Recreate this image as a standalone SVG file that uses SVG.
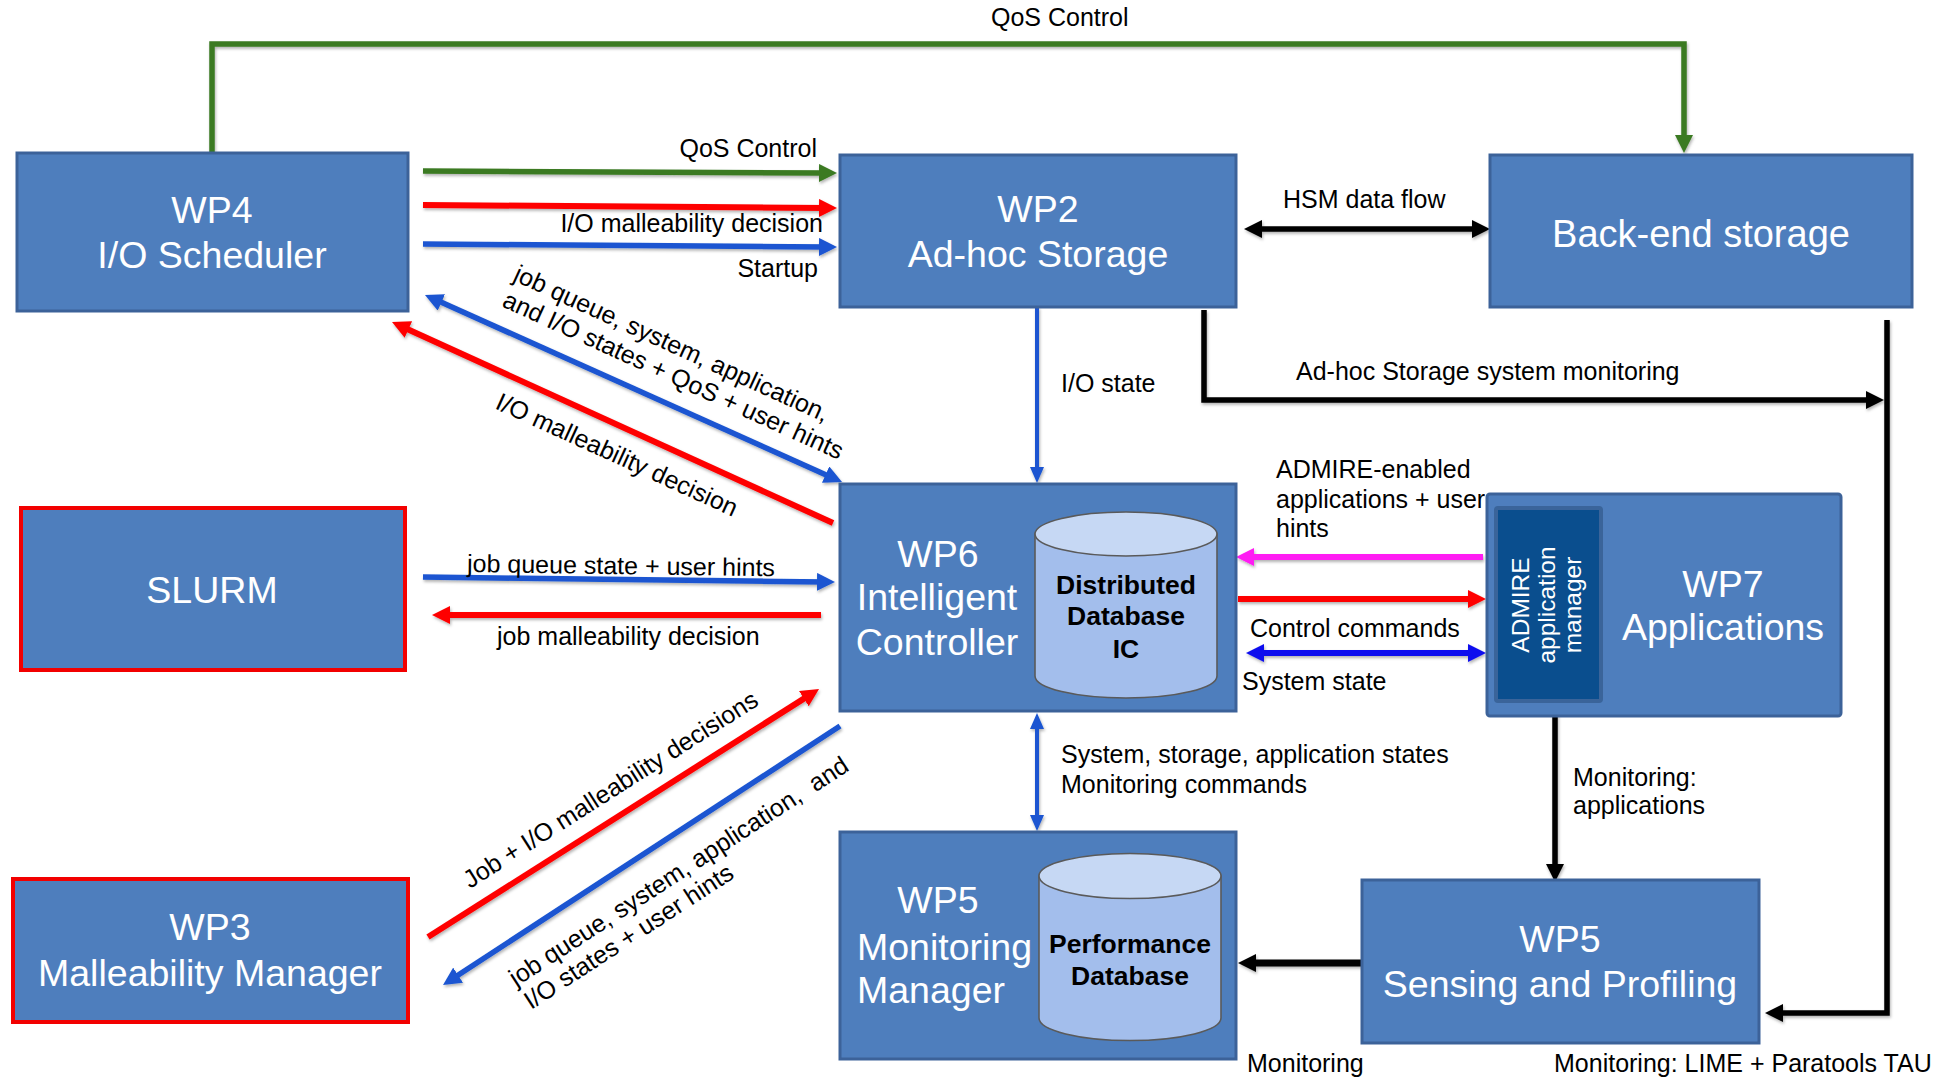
<svg xmlns="http://www.w3.org/2000/svg" width="1941" height="1077" viewBox="0 0 1941 1077">
  <style>
    .box{fill:#4E7EBD;stroke:#3C6299;stroke-width:3}
    .boxr{fill:#4E7EBD;stroke:#F20000;stroke-width:4}
    .t{font-family:"Liberation Sans",Arial,Helvetica,sans-serif;fill:#fff;font-size:37.5px;text-anchor:middle}
    .ts{font-family:"Liberation Sans",Arial,Helvetica,sans-serif;fill:#fff;font-size:37.5px}
    .lbl{font-family:"Liberation Sans",Arial,Helvetica,sans-serif;fill:#000;font-size:25px}
    .end{text-anchor:end}
    .db{fill:#A3BEEC;stroke:#5A5A5A;stroke-width:1.6}
    .dbtop{fill:#C6D8F4;stroke:#5A5A5A;stroke-width:1.6}
    .dbt{font-family:"Liberation Sans",Arial,Helvetica,sans-serif;font-weight:bold;font-size:26.5px;text-anchor:middle;fill:#000}
    .adm{font-family:"Liberation Sans",Arial,Helvetica,sans-serif;fill:#fff;font-size:24.5px;text-anchor:middle}
    .c{fill:none;stroke-linecap:butt;stroke-linejoin:miter}
    .green{stroke:#3A7A21;stroke-width:5.5}
    .red{stroke:#FE0000;stroke-width:6}
    .blue{stroke:#1A55D1;stroke-width:5.5}
    .blues{stroke:#1A55D1;stroke-width:4}
    .pblue{stroke:#0A0AEE;stroke-width:6}
    .mag{stroke:#FF1BF3;stroke-width:6}
    .blk{stroke:#000;stroke-width:5.5}
  </style>
  <defs>
    <filter id="sh" filterUnits="userSpaceOnUse" x="0" y="0" width="1941" height="1077">
      <feDropShadow dx="1" dy="2" stdDeviation="1.5" flood-color="#000" flood-opacity="0.3"/>
    </filter>
    <marker id="aG" viewBox="0 0 18 18" markerWidth="18" markerHeight="18" refX="8" refY="9" orient="auto-start-reverse" markerUnits="userSpaceOnUse"><path d="M0,0 L18,9 L0,18 z" fill="#3A7A21"/></marker>
    <marker id="aR" viewBox="0 0 18 18" markerWidth="18" markerHeight="18" refX="8" refY="9" orient="auto-start-reverse" markerUnits="userSpaceOnUse"><path d="M0,0 L18,9 L0,18 z" fill="#FE0000"/></marker>
    <marker id="aB" viewBox="0 0 18 18" markerWidth="18" markerHeight="18" refX="8" refY="9" orient="auto-start-reverse" markerUnits="userSpaceOnUse"><path d="M0,0 L18,9 L0,18 z" fill="#1A55D1"/></marker>
    <marker id="aBs" viewBox="0 0 16 14" markerWidth="16" markerHeight="14" refX="8" refY="7" orient="auto-start-reverse" markerUnits="userSpaceOnUse"><path d="M0,0 L16,7 L0,14 z" fill="#1A55D1"/></marker>
    <marker id="aP" viewBox="0 0 18 18" markerWidth="18" markerHeight="18" refX="8" refY="9" orient="auto-start-reverse" markerUnits="userSpaceOnUse"><path d="M0,0 L18,9 L0,18 z" fill="#0A0AEE"/></marker>
    <marker id="aM" viewBox="0 0 18 18" markerWidth="18" markerHeight="18" refX="8" refY="9" orient="auto-start-reverse" markerUnits="userSpaceOnUse"><path d="M0,0 L18,9 L0,18 z" fill="#FF1BF3"/></marker>
    <marker id="aK" viewBox="0 0 18 18" markerWidth="18" markerHeight="18" refX="8" refY="9" orient="auto-start-reverse" markerUnits="userSpaceOnUse"><path d="M0,0 L18,9 L0,18 z" fill="#000"/></marker>
  </defs>

  <rect width="1941" height="1077" fill="#fff"/>

  <!-- connectors -->
  <g id="connectors" class="c" filter="url(#sh)">
    <!-- WP4 -> Back-end storage (QoS) -->
    <path class="green" d="M212,153 V44 H1684 V143" marker-end="url(#aG)"/>
    <!-- WP4 -> WP2 -->
    <path class="green" d="M423,171 L827,173" marker-end="url(#aG)"/>
    <path class="red" d="M423,205 L827,208" marker-end="url(#aR)"/>
    <path class="blue" d="M423,244 L827,247" marker-end="url(#aB)"/>
    <!-- WP2 <-> Back-end storage -->
    <path class="blk" d="M1254,229 H1480" marker-start="url(#aK)" marker-end="url(#aK)"/>
    <!-- WP2 -> storage monitoring -->
    <path class="blk" d="M1204,310 V400 H1874" marker-end="url(#aK)"/>
    <!-- Back-end storage -> Sensing and Profiling -->
    <path class="blk" d="M1887,320 V1013 H1775" marker-end="url(#aK)"/>
    <!-- WP2 -> WP6 (I/O state) -->
    <path class="blues" d="M1037,307 V475" marker-end="url(#aBs)"/>
    <!-- WP4 <-> WP6 -->
    <path class="blue" d="M434.1,299.1 L832.9,477.9" marker-start="url(#aB)" marker-end="url(#aB)"/>
    <path class="red" d="M833,523 L401.1,326.2" marker-end="url(#aR)"/>
    <!-- SLURM <-> WP6 -->
    <path class="blue" d="M423,577 L825,582" marker-end="url(#aB)"/>
    <path class="red" d="M821,615 L442,615" marker-end="url(#aR)"/>
    <!-- WP3 <-> WP6 -->
    <path class="red" d="M428,937 L810.6,694.4" marker-end="url(#aR)"/>
    <path class="blue" d="M840,726 L451.4,979.5" marker-end="url(#aB)"/>
    <!-- WP7 <-> WP6 -->
    <path class="mag" d="M1483,557 L1246,557" marker-end="url(#aM)"/>
    <path class="red" d="M1238,599 L1476,599" marker-end="url(#aR)"/>
    <path class="pblue" d="M1256,653 L1476,653" marker-start="url(#aP)" marker-end="url(#aP)"/>
    <!-- WP6 <-> WP5 Monitoring Manager -->
    <path class="blues" d="M1037,721 V823" marker-start="url(#aBs)" marker-end="url(#aBs)"/>
    <!-- ADMIRE manager -> Sensing and Profiling -->
    <path class="blk" d="M1555,703 V872" marker-end="url(#aK)"/>
    <!-- Sensing and Profiling -> Performance Database -->
    <path class="blk" style="stroke-width:7" d="M1362,963 L1248,963" marker-end="url(#aK)"/>
  </g>

  <!-- connector labels -->
  <g id="labels" class="lbl">
    <text class="lbl" x="991" y="26">QoS Control</text>
    <text class="lbl end" x="817" y="157">QoS Control</text>
    <text class="lbl end" x="823" y="232">I/O malleability decision</text>
    <text class="lbl end" x="818" y="277">Startup</text>
    <text class="lbl" x="1283" y="208">HSM data flow</text>
    <text class="lbl" x="1296" y="380">Ad-hoc Storage system monitoring</text>
    <text class="lbl" x="1061" y="392">I/O state</text>
    <text class="lbl" transform="translate(512,280) rotate(24.5)">job queue, system, application,</text>
    <text class="lbl" transform="translate(501,306) rotate(24.5)">and I/O states + QoS + user hints</text>
    <text class="lbl" transform="translate(494,408) rotate(24.5)">I/O malleability decision</text>
    <text class="lbl" transform="translate(467,572) rotate(0.8)">job queue state + user hints</text>
    <text class="lbl" x="497" y="645">job malleability decision</text>
    <text class="lbl" transform="translate(470,889) rotate(-32.5)">Job + I/O malleability decisions</text>
    <text class="lbl" style="white-space:pre" transform="translate(516,987) rotate(-33)">job queue, system, application,  and</text>
    <text class="lbl" transform="translate(531,1010) rotate(-33)">I/O states + user hints</text>
    <text class="lbl" x="1276" y="478">ADMIRE-enabled</text>
    <text class="lbl" x="1276" y="508">applications + user</text>
    <text class="lbl" x="1276" y="537">hints</text>
    <text class="lbl" x="1250" y="637">Control commands</text>
    <text class="lbl" x="1242" y="690">System state</text>
    <text class="lbl" x="1061" y="763">System, storage, application states</text>
    <text class="lbl" x="1061" y="793">Monitoring commands</text>
    <text class="lbl" x="1573" y="786">Monitoring:</text>
    <text class="lbl" x="1573" y="814">applications</text>
    <text class="lbl" x="1247" y="1072">Monitoring</text>
    <text class="lbl" x="1554" y="1072">Monitoring: LIME + Paratools TAU</text>
  </g>

  <!-- nodes -->
  <g id="wp4">
    <rect class="box" x="17" y="153" width="391" height="158"/>
    <text class="t" x="212" y="223">WP4</text>
    <text class="t" x="212" y="268">I/O Scheduler</text>
  </g>
  <g id="wp2">
    <rect class="box" x="840" y="155" width="396" height="152"/>
    <text class="t" x="1038" y="222">WP2</text>
    <text class="t" x="1038" y="267">Ad-hoc Storage</text>
  </g>
  <g id="backend">
    <rect class="box" x="1490" y="155" width="422" height="152"/>
    <text class="t" x="1701" y="247" style="font-size:38px">Back-end storage</text>
  </g>
  <g id="slurm">
    <rect class="boxr" x="21" y="508" width="384" height="162"/>
    <text class="t" x="212" y="603">SLURM</text>
  </g>
  <g id="wp6">
    <rect class="box" x="840" y="484" width="396" height="227"/>
    <text class="t" x="938" y="567">WP6</text>
    <text class="t" x="937" y="610">Intelligent</text>
    <text class="t" x="937" y="655">Controller</text>
    <path class="db" d="M1035,534 V676 A91,22 0 0 0 1217,676 V534 Z"/>
    <ellipse class="dbtop" cx="1126" cy="534" rx="91" ry="22"/>
    <text class="dbt" x="1126" y="594">Distributed</text>
    <text class="dbt" x="1126" y="625">Database</text>
    <text class="dbt" x="1126" y="658">IC</text>
  </g>
  <g id="wp7">
    <rect class="box" x="1487" y="494" width="354" height="222" rx="3"/>
    <rect x="1496" y="508" width="105" height="193" rx="2" fill="#0A4E8E" stroke="#3A649A" stroke-width="4"/>
    <text class="adm" transform="translate(1529,605) rotate(-90)">ADMIRE</text>
    <text class="adm" transform="translate(1555,605) rotate(-90)">application</text>
    <text class="adm" transform="translate(1581,605) rotate(-90)">manager</text>
    <text class="t" x="1723" y="597">WP7</text>
    <text class="t" x="1723" y="640">Applications</text>
  </g>
  <g id="wp3">
    <rect class="boxr" x="13" y="879" width="395" height="143"/>
    <text class="t" x="210" y="940">WP3</text>
    <text class="t" x="210" y="986">Malleability Manager</text>
  </g>
  <g id="wp5-monitoring">
    <rect class="box" x="840" y="832" width="396" height="227"/>
    <text class="t" x="938" y="913">WP5</text>
    <text class="ts" x="857" y="960">Monitoring</text>
    <text class="ts" x="857" y="1003">Manager</text>
    <path class="db" d="M1039,876 V1018 A91,22.5 0 0 0 1221,1018 V876 Z"/>
    <ellipse class="dbtop" cx="1130" cy="876" rx="91" ry="22.5"/>
    <text class="dbt" x="1130" y="953">Performance</text>
    <text class="dbt" x="1130" y="985">Database</text>
  </g>
  <g id="wp5-sensing">
    <rect class="box" x="1362" y="880" width="397" height="163"/>
    <text class="t" x="1560" y="952">WP5</text>
    <text class="t" x="1560" y="997">Sensing and Profiling</text>
  </g>
</svg>
